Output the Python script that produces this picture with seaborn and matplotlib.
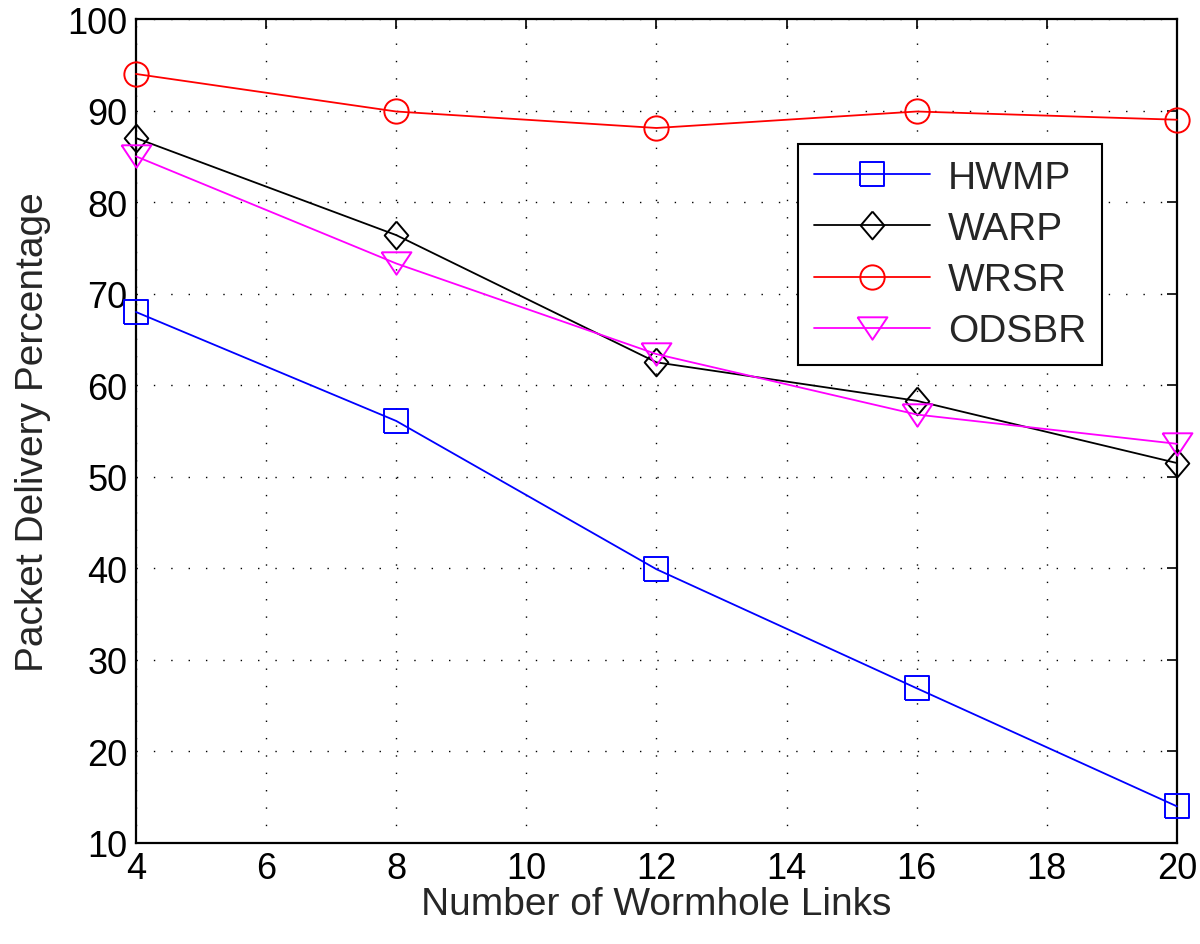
import matplotlib
matplotlib.use("Agg")
import matplotlib.pyplot as plt
import seaborn as sns
import pandas as pd

x_links = [4, 8, 12, 16, 20]
hwmp = [68, 56.1, 39.9, 26.9, 14]
warp = [87, 76.4, 62.5, 58.3, 51.5]
wrsr = [94, 89.9, 88.1, 89.9, 89]
odsbr = [85, 73.3, 63.4, 56.8, 53.6]

series_names = ["HWMP", "WARP", "WRSR", "ODSBR"]
series_values = [hwmp, warp, wrsr, odsbr]
colors = ["#0000ff", "#000000", "#ff0000", "#ff00ff"]

sq = [(-1, -1), (1, -1), (1, 1), (-1, 1), (-1, -1)]
dia = [(0, 1), (0.85, 0), (0, -1), (-0.85, 0), (0, 1)]
tri = [(-1, 0.75), (1, 0.75), (0, -0.75), (-1, 0.75)]
markers = [sq, dia, "o", tri]
msizes = [17, 20, 17.5, 21.5]

sns.set_style("white")
plt.rcParams['font.family'] = ['Liberation Sans', 'DejaVu Sans']

fig = plt.figure(figsize=(12, 9.45), dpi=100)
ax = fig.add_axes([0.1133, 0.1069, 0.9808 - 0.1133, 0.9788 - 0.1069])

for name, vals, c, m, ms in zip(series_names, series_values, colors, markers, msizes):
    df = pd.DataFrame({"x": x_links, "y": vals})
    sns.lineplot(data=df, x="x", y="y", ax=ax, color=c, marker=m, markersize=ms,
                 markerfacecolor="none", markeredgecolor=c, markeredgewidth=1.4,
                 linewidth=1.3, label=name, clip_on=False, zorder=3)

ax.set_xlim(4, 20)
ax.set_ylim(10, 100)
ax.set_xticks(range(4, 21, 2))
ax.set_yticks(range(10, 101, 10))
ax.grid(True, color="black", linestyle=(0, (1, 11.5)), linewidth=1.0)
for s in ax.spines.values():
    s.set_color("black")
    s.set_linewidth(1.6)
ax.tick_params(direction="in", length=7, width=1.2, top=True, right=True,
               labelsize=26, pad=6, colors="black")
ax.set_xlabel("Number of Wormhole Links", fontsize=28, labelpad=0)
ax.set_ylabel("Packet Delivery Percentage", fontsize=28, labelpad=12)

leg = ax.legend(loc="upper left", bbox_to_anchor=(0.636, 0.848), fontsize=28,
                frameon=True, fancybox=False, edgecolor="black", framealpha=1,
                handlelength=3.0, handletextpad=0.45, labelspacing=0.39,
                borderpad=0.4, borderaxespad=0)
leg.get_frame().set_linewidth(1.5)

fig.savefig("out.png", dpi=100)
